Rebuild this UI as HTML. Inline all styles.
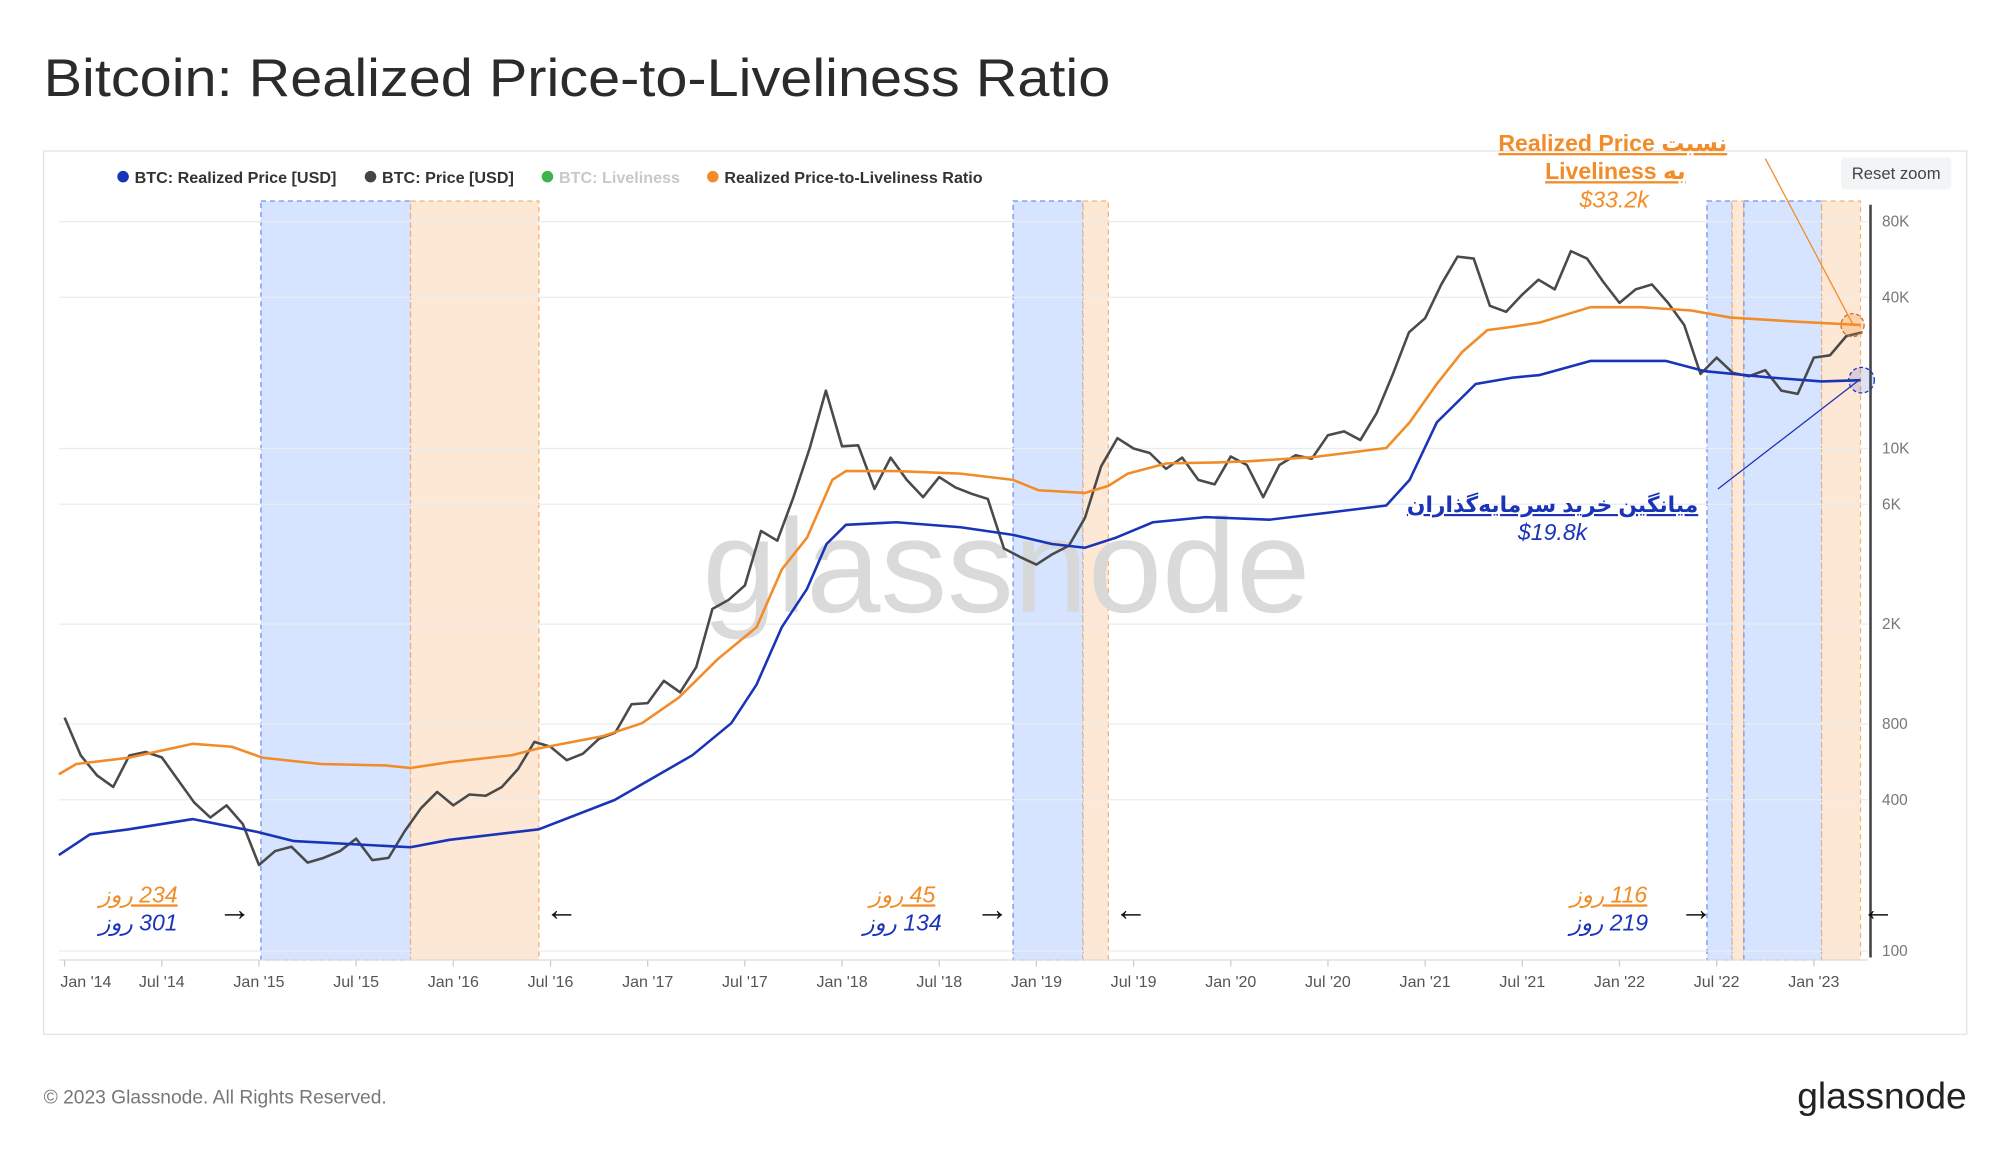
<!DOCTYPE html>
<html><head><meta charset="utf-8"><style>
html,body{margin:0;padding:0;background:#fff;}
svg{display:block;font-family:"Liberation Sans","DejaVu Sans",sans-serif;}
</style></head><body>
<svg id="c" width="2000" height="1152" viewBox="0 0 1560 900" preserveAspectRatio="none">
<text x="34" y="75" font-size="41" fill="#2b2b2b" textLength="832" lengthAdjust="spacingAndGlyphs">Bitcoin: Realized Price-to-Liveliness Ratio</text>
<rect x="34" y="118" width="1500" height="690" fill="none" stroke="#e3e3e3"/>
<g id="bands"></g>
<g id="grid"></g>
<text x="785" y="478" font-size="104" fill="#d6d6d6" fill-opacity="0.9" text-anchor="middle">glassnode</text>
<g id="series"></g>
<line x1="1459" y1="160" x2="1459" y2="748" stroke="#444" stroke-width="2"/>
<g id="axes"></g>
<g font-size="12.6" font-weight="bold">
 <g><circle cx="96" cy="138" r="4.5" fill="#1a34b8"/><text x="105" y="143" fill="#333">BTC: Realized Price [USD]</text></g>
 <g><circle cx="289" cy="138" r="4.5" fill="#444"/><text x="298" y="143" fill="#333">BTC: Price [USD]</text></g>
 <g><circle cx="427" cy="138" r="4.5" fill="#3cb44b"/><text x="436" y="143" fill="#c8c8c8">BTC: Liveliness</text></g>
 <g><circle cx="556" cy="138" r="4.5" fill="#f28c28"/><text x="565" y="143" fill="#333">Realized Price-to-Liveliness Ratio</text></g>
</g>
<g><rect x="1436" y="123" width="86" height="25" rx="3" fill="#f3f4f6"/><text x="1479" y="140" font-size="13" fill="#444" text-anchor="middle">Reset zoom</text></g>
<g fill="#f28c28" text-anchor="middle">
 <text x="1258" y="118" font-size="18" font-weight="bold" text-decoration="underline">Realized Price نسبت</text>
 <text x="1260" y="140" font-size="18" font-weight="bold" text-decoration="underline">Liveliness به</text>
 <text x="1259" y="162" font-size="18" font-style="italic">$33.2k</text>
 <line x1="1377" y1="124" x2="1445" y2="253" stroke="#f28c28" stroke-width="1"/>
 <circle cx="1445" cy="254" r="9" fill="#f28c28" fill-opacity="0.25" stroke="#c8702a" stroke-dasharray="3,2"/>
</g>
<g fill="#1a34b8" text-anchor="middle">
 <text x="1211" y="400" font-size="17" font-weight="bold" text-decoration="underline" direction="rtl">میانگین خرید سرمایه‌گذاران</text>
 <text x="1211" y="422" font-size="18" font-style="italic">$19.8k</text>
 <line x1="1340" y1="382" x2="1450" y2="297" stroke="#1a34b8" stroke-width="1"/>
 <circle cx="1452" cy="297" r="10" fill="#1a34b8" fill-opacity="0.15" stroke="#1a34b8" stroke-dasharray="3,2"/>
</g>
<g font-size="18" font-style="italic" text-anchor="middle">
 <text x="108" y="705" fill="#f28c28" text-decoration="underline" direction="rtl">234 روز</text>
 <text x="108" y="727" fill="#1a34b8" direction="rtl">301 روز</text>
 <text x="704" y="705" fill="#f28c28" text-decoration="underline" direction="rtl">45 روز</text>
 <text x="704" y="727" fill="#1a34b8" direction="rtl">134 روز</text>
 <text x="1255" y="705" fill="#f28c28" text-decoration="underline" direction="rtl">116 روز</text>
 <text x="1255" y="727" fill="#1a34b8" direction="rtl">219 روز</text>
</g>
<g font-size="26" fill="#111" text-anchor="middle">
 <text x="183" y="719">→</text><text x="438" y="719">←</text>
 <text x="774" y="719">→</text><text x="882" y="719">←</text>
 <text x="1323" y="719">→</text><text x="1465" y="719">←</text>
</g>
<text x="34" y="862" font-size="15" fill="#777">© 2023 Glassnode. All Rights Reserved.</text>
<text x="1534" y="866" font-size="29" fill="#222" text-anchor="end">glassnode</text>
</svg>
<script>
const NS="http://www.w3.org/2000/svg";
const yTicks=[100,400,800,2000,6000,10000,40000,80000];
const yTickLabels=["100","400","800","2K","6K","10K","40K","80K"];
const xTickYears=[2014,2014.5,2015,2015.5,2016,2016.5,2017,2017.5,2018,2018.5,2019,2019.5,2020,2020.5,2021,2021.5,2022,2022.5,2023];
const xTickLabels=["Jan '14","Jul '14","Jan '15","Jul '15","Jan '16","Jul '16","Jan '17","Jul '17","Jan '18","Jul '18","Jan '19","Jul '19","Jan '20","Jul '20","Jan '21","Jul '21","Jan '22","Jul '22","Jan '23"];
const priceStart=2014.0;
const priceMonthly=[850,600,500,450,600,620,590,480,390,340,380,320,
220,250,260,225,235,250,280,230,235,300,370,430,
380,420,415,450,530,680,650,575,610,700,740,960,
970,1190,1070,1350,2300,2500,2850,4700,4300,6400,10000,17000,
10200,10300,6900,9200,7500,6400,7700,7000,6600,6300,4000,3700,
3450,3800,4100,5300,8500,11000,10000,9600,8300,9200,7500,7200,
9300,8600,6400,8600,9400,9100,11300,11700,10800,13800,19700,29000,
33000,45000,58000,57000,37000,35000,41000,47000,43000,61000,57000,46000,
38000,43000,45000,38000,31000,19800,23000,20000,19400,20500,17000,16500,
23000,23500,28000,29000];
const realizedT=[2013.97,2014.13,2014.33,2014.66,2014.99,2015.18,2015.78,2015.98,2016.44,2016.83,2017.23,2017.43,2017.56,2017.69,2017.82,2017.92,2018.02,2018.28,2018.61,2018.88,2019.08,2019.25,2019.41,2019.6,2019.87,2020.2,2020.53,2020.8,2020.92,2021.06,2021.26,2021.45,2021.59,2021.85,2022.24,2022.44,2022.78,2023.04,2023.24];
const realizedV=[241,291,305,335,298,274,259,277,305,399,602,807,1148,1945,2766,4170,4970,5090,4860,4530,4170,4030,4420,5090,5330,5210,5590,5930,7500,12700,18070,19150,19600,22300,22300,20300,19150,18500,18700];
const ratioT=[2013.97,2014.06,2014.33,2014.66,2014.86,2015.02,2015.32,2015.65,2015.78,2015.98,2016.3,2016.44,2016.77,2016.97,2017.16,2017.36,2017.56,2017.69,2017.82,2017.95,2018.02,2018.28,2018.61,2018.88,2019.01,2019.25,2019.37,2019.47,2019.67,2019.93,2020.1,2020.43,2020.8,2020.92,2021.06,2021.19,2021.32,2021.45,2021.59,2021.85,2022.11,2022.37,2022.57,2022.9,2023.24];
const ratioV=[505,555,588,668,650,588,555,548,535,565,602,640,717,807,1020,1450,1945,3300,4420,7500,8130,8130,7950,7500,6820,6660,7100,7950,8730,8800,8900,9250,10050,12700,18070,24200,29600,30500,31700,36500,36500,35400,33200,32000,31000];
const bandStarts=[2015.01,2015.78,2018.88,2019.24,2022.45,2022.58,2022.64,2023.04];
const bandEnds=[2015.78,2016.44,2019.24,2019.37,2022.58,2022.64,2023.04,2023.24];
const bandKinds=["blue","orange","blue","orange","blue","orange","blue","orange"];

const X0=46,X1=1457,Y0=157,Y1=750;
function xs(t){return 202+(t-2015)*151.6;}
function ys(v){return 743-(Math.log10(v)-2)*196.3;}
const g=id=>document.getElementById(id);
function mk(tag,attrs,parent){const e=document.createElementNS(NS,tag);for(const k in attrs)e.setAttribute(k,attrs[k]);parent.appendChild(e);return e;}

bandStarts.forEach((s,i)=>{
  const blue=bandKinds[i]==="blue";
  const r=mk("rect",{x:xs(s),y:Y0,width:xs(bandEnds[i])-xs(s),height:Y1-Y0,fill:blue?"#d6e4ff":"#fde8d6",stroke:blue?"#6d93e8":"#f4b37a","stroke-dasharray":"4,3","stroke-width":1},g("bands"));
  
  
});
yTicks.forEach((v,i)=>{
  const l=mk("line",{x1:X0,x2:X1,y1:ys(v),y2:ys(v),stroke:"#ececec"},g("grid"));
  
  
  const t=mk("text",{x:1468,y:ys(v)+4,"font-size":12,fill:"#777"},g("axes"));
  t.textContent=yTickLabels[i];
  
  
});
xTickYears.forEach((y,i)=>{
  let x=xs(y); if(x<67)x=67;
  const t=mk("text",{x:x,y:771,"font-size":12.5,fill:"#555","text-anchor":"middle"},g("axes"));
  t.textContent=xTickLabels[i];
  
  
  const tk=mk("line",{x1:xs(y),x2:xs(y),y1:750,y2:755,stroke:"#ccc"},g("axes"));
  
  
});
mk("line",{x1:X0,x2:X1,y1:750,y2:750,stroke:"#ddd"},g("axes"));
function path(ts,vs,color,w,name){
  const d=ts.map((t,i)=>(i?"L":"M")+xs(t).toFixed(1)+","+ys(vs[i]).toFixed(1)).join("");
  const p=mk("path",{d:d,fill:"none",stroke:color,"stroke-width":w,"stroke-linejoin":"round"},g("series"));
  
  
}
const priceT=priceMonthly.map((v,i)=>priceStart+i/12);
path(priceT,priceMonthly,"#4a4a4a",2,"price-line");
path(ratioT,ratioV,"#f28c28",2,"ratio-line");
path(realizedT,realizedV,"#1a34b8",2,"realized-price-line");
</script>
</body></html>
